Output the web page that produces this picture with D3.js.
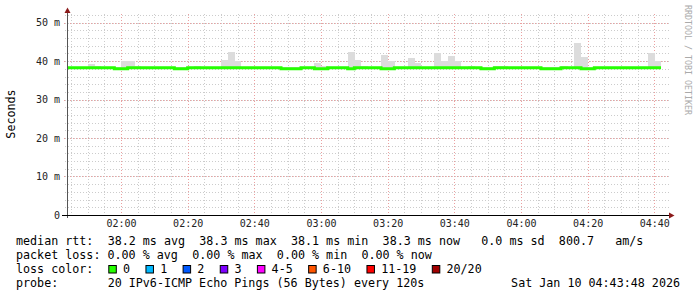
<!DOCTYPE html>
<html>
<head>
<meta charset="utf-8">
<script src="https://cdn.jsdelivr.net/npm/d3@7"></script>
<style>
body { margin: 0; background: #fff; }
svg text { font-family: "DejaVu Sans Mono", monospace; }
</style>
</head>
<body>
<script>
// time window of the graph and the 2 minute rrd steps
var startTime = Date.UTC(2026, 0, 10, 1, 43, 48)
var endTime = Date.UTC(2026, 0, 10, 4, 43, 48)
var firstBin = Date.UTC(2026, 0, 10, 1, 44, 0)
var stepMs = 120000

// median rtt per step (ms)
var medianMs = [
  38.3, 38.3, 38.3, 38.3, 38.3, 38.3, 38.3, 38.05, 38.05, 38.3,
  38.3, 38.3, 38.3, 38.3, 38.3, 38.3, 38.05, 38.05, 38.3, 38.3,
  38.3, 38.3, 38.3, 38.3, 38.3, 38.3, 38.3, 38.3, 38.3, 38.3,
  38.3, 38.3, 38.05, 38.05, 38.05, 38.3, 38.3, 38.05, 38.05, 38.3,
  38.3, 38.3, 38.05, 38.3, 38.3, 38.3, 38.3, 38.05, 38.05, 38.3,
  38.3, 38.3, 38.3, 38.3, 38.3, 38.3, 38.3, 38.3, 38.3, 38.3,
  38.3, 38.3, 38.05, 38.05, 38.3, 38.3, 38.3, 38.3, 38.3, 38.3,
  38.3, 38.05, 38.05, 38.05, 38.3, 38.3, 38.3, 38.05, 38.05, 38.3,
  38.3, 38.3, 38.3, 38.3, 38.3, 38.3, 38.3, 38.3, 38.3
]
// highest ping per step (top of the smoke)
var maxMs = [
  38.5, 38.5, 38.5, 39.3, 38.75, 38.5, 38.5, 38.5, 40.0, 40.0,
  38.75, 38.5, 38.5, 38.5, 38.5, 38.5, 38.5, 38.5, 38.5, 38.75,
  38.5, 38.5, 38.5, 40.3, 42.4, 40.0, 38.5, 38.5, 38.5, 38.5,
  38.5, 38.5, 38.5, 38.5, 38.5, 38.5, 38.5, 39.6, 38.75, 38.5,
  38.5, 38.5, 42.4, 40.3, 38.75, 38.5, 38.5, 41.6, 40.0, 38.5,
  38.5, 40.8, 39.5, 38.5, 38.5, 42.1, 40.0, 41.3, 40.0, 38.5,
  38.75, 38.5, 38.5, 38.5, 38.75, 38.75, 38.5, 38.5, 38.5, 38.5,
  38.5, 38.5, 38.5, 38.5, 38.75, 38.5, 44.7, 41.1, 38.5, 38.5,
  38.5, 38.5, 38.5, 38.5, 38.5, 38.5, 38.5, 42.1, 40.0
]
// lowest ping per step (bottom of the smoke)
var minMs = [
  37.95, 37.95, 37.95, 37.95, 37.95, 37.95, 37.95, 37.95, 37.95, 37.95,
  37.95, 37.95, 37.95, 37.95, 37.95, 37.95, 37.95, 37.95, 37.95, 37.95,
  37.95, 37.95, 37.95, 37.95, 37.95, 37.95, 37.95, 37.95, 37.95, 37.95,
  37.95, 37.95, 37.95, 37.95, 37.95, 37.95, 37.95, 37.95, 37.95, 37.95,
  37.95, 37.95, 37.95, 37.95, 37.95, 37.95, 37.95, 37.95, 37.95, 37.95,
  37.95, 37.95, 37.95, 37.95, 37.95, 37.95, 37.95, 37.95, 37.95, 37.95,
  37.95, 37.95, 37.95, 37.95, 37.95, 37.95, 37.95, 37.95, 37.95, 37.95,
  37.95, 37.95, 37.95, 37.95, 37.95, 37.95, 37.95, 37.95, 37.95, 37.95,
  37.95, 37.95, 37.95, 37.95, 37.95, 37.95, 37.95, 37.95, 37.95
]

var yTicks = [0, 10, 20, 30, 40, 50]
var lossLabels = ["0", "1", "2", "3", "4-5", "6-10", "11-19", "20/20"]
var lossColors = ["#26ff00", "#00b8ff", "#0059ff", "#7e00ff", "#ff00ff", "#ff5500", "#ff0000", "#a00000"]
var legendLines = [
  "median rtt:  38.2 ms avg  38.3 ms max  38.1 ms min  38.3 ms now   0.0 ms sd  800.7   am/s",
  "packet loss: 0.00 % avg  0.00 % max  0.00 % min  0.00 % now",
  "loss color:",
  "probe:       20 IPv6-ICMP Echo Pings (56 Bytes) every 120s"
]
var stampText = "Sat Jan 10 04:43:48 2026"
var creditText = "RRDTOOL / TOBI OETIKER"

var W = 697, H = 297
var plot = {left: 67, right: 667, top: 14, bottom: 214.9}
var charW = 7.05

var svg = d3.select("body").append("svg").attr("width", W).attr("height", H)

var x = d3.scaleUtc().domain([startTime, endTime]).range([plot.left, plot.right])
var y = d3.scaleLinear().domain([0, 52.26]).range([plot.bottom, plot.top])

// grid: minor then major
var grid = svg.append("g").attr("shape-rendering", "crispEdges")
var minorX = x.ticks(d3.utcMinute.every(5))
var majorX = x.ticks(d3.utcMinute.every(20))
var minorY = d3.range(2, 53, 2)

grid.selectAll(".vmin").data(minorX).enter().append("line")
    .attr("x1", function(d){ return Math.round(x(d)) + 0.5 })
    .attr("x2", function(d){ return Math.round(x(d)) + 0.5 })
    .attr("y1", plot.top).attr("y2", plot.bottom + 2)
    .attr("stroke", "#cccccc").attr("stroke-dasharray", "1,2")
grid.selectAll(".hmin").data(minorY).enter().append("line")
    .attr("x1", plot.left - 2).attr("x2", plot.right + 2)
    .attr("y1", function(d){ return Math.round(y(d)) + 0.5 })
    .attr("y2", function(d){ return Math.round(y(d)) + 0.5 })
    .attr("stroke", "#cccccc").attr("stroke-dasharray", "1,2")
grid.selectAll(".vmaj").data(majorX).enter().append("line")
    .attr("x1", function(d){ return Math.round(x(d)) + 0.5 })
    .attr("x2", function(d){ return Math.round(x(d)) + 0.5 })
    .attr("y1", plot.top).attr("y2", plot.bottom + 3)
    .attr("stroke", "#eba0a0").attr("stroke-dasharray", "1,2")
grid.selectAll(".hmaj").data(yTicks.slice(1)).enter().append("line")
    .attr("x1", plot.left - 3).attr("x2", plot.right + 2)
    .attr("y1", function(d){ return Math.round(y(d)) + 0.5 })
    .attr("y2", function(d){ return Math.round(y(d)) + 0.5 })
    .attr("stroke", "#eba0a0").attr("stroke-dasharray", "1,2")

// smoke
var bins = medianMs.map(function(m, i){
    return {t0: firstBin + i * stepMs, t1: firstBin + (i + 1) * stepMs, med: m, hi: maxMs[i], lo: minMs[i]}
})
var smoke = svg.append("g").attr("shape-rendering", "crispEdges")
smoke.selectAll(".up").data(bins).enter().append("rect")
    .attr("x", function(d){ return x(d.t0) })
    .attr("width", function(d){ return x(d.t1) - x(d.t0) + 0.3 })
    .attr("y", function(d){ return y(d.hi) })
    .attr("height", function(d){ return Math.max(0, y(d.med) - y(d.hi)) })
    .attr("fill", "#dcdcdc")
smoke.selectAll(".down").data(bins).enter().append("rect")
    .attr("x", function(d){ return x(d.t0) })
    .attr("width", function(d){ return x(d.t1) - x(d.t0) + 0.3 })
    .attr("y", function(d){ return y(d.med) })
    .attr("height", function(d){ return Math.max(0, y(d.lo) - y(d.med)) })
    .attr("fill", "#a8a8a8")

// median line
var pts = bins.map(function(d){ return [d.t0, d.med] })
pts.push([bins[bins.length - 1].t1, bins[bins.length - 1].med])
var medLine = d3.line()
    .x(function(d){ return x(d[0]) })
    .y(function(d){ return y(d[1]) })
    .curve(d3.curveStepAfter)
svg.append("path").attr("d", medLine(pts))
    .attr("fill", "none").attr("stroke", lossColors[0]).attr("stroke-width", 3)

// axes lines and arrows
svg.append("line").attr("x1", plot.left + 0.5).attr("x2", plot.left + 0.5)
    .attr("y1", 12).attr("y2", plot.bottom + 3).attr("stroke", "#555").attr("shape-rendering", "crispEdges")
svg.append("line").attr("x1", 62).attr("x2", 670).attr("y1", 215.5).attr("y2", 215.5)
    .attr("stroke", "#000").attr("shape-rendering", "crispEdges")
svg.append("path").attr("d", "M64.5,13L70.5,13L67.5,7.5Z").attr("fill", "#8b1a1a")
svg.append("path").attr("d", "M669,212.5L669,218.5L674.5,215.5Z").attr("fill", "#8b1a1a")

// tick labels
var yAxis = d3.axisLeft(y).tickValues(yTicks)
    .tickFormat(function(d){ return d === 0 ? "0" : d + " m" })
    .tickSize(0).tickPadding(7)
var gy = svg.append("g").attr("transform", "translate(" + plot.left + ",0)").call(yAxis)
gy.select(".domain").remove()
gy.selectAll("text").attr("font-family", "DejaVu Sans Mono").attr("font-size", 10).attr("fill", "#222")

var xAxis = d3.axisBottom(x).ticks(d3.utcMinute.every(20))
    .tickFormat(d3.utcFormat("%H:%M")).tickSize(0).tickPadding(5.5)
var gx = svg.append("g").attr("transform", "translate(0," + plot.bottom + ")").call(xAxis)
gx.select(".domain").remove()
gx.selectAll("text").attr("font-family", "DejaVu Sans Mono").attr("font-size", 10).attr("fill", "#222")

// axis title and credit
svg.append("text").attr("transform", "translate(15,114) rotate(-90)")
    .attr("text-anchor", "middle").attr("font-size", 11.7).attr("fill", "#000").text("Seconds")
svg.append("text").attr("transform", "translate(685,5) rotate(90)")
    .attr("font-size", 8.3).attr("fill", "#aaaaaa").text(creditText)

// legend: every word placed on its character column, like rrdtool does
var rowY = [245, 259, 272.8, 286.7]
legendLines.forEach(function(line, r){
    var re = /\S+(?: \S+)*/g, m
    while ((m = re.exec(line)) !== null) {
        svg.append("text").attr("x", 16 + m.index * charW).attr("y", rowY[r])
            .attr("font-size", 11.7).attr("fill", "#000").text(m[0])
    }
})
svg.append("text").attr("x", 680).attr("y", rowY[3]).attr("text-anchor", "end")
    .attr("font-size", 11.7).attr("fill", "#000").text(stampText)

var lx = 108.3
lossLabels.forEach(function(lab, i){
    svg.append("rect").attr("x", lx + 0.5).attr("y", 265.5).attr("width", 7.5).attr("height", 7.5)
        .attr("fill", lossColors[i]).attr("stroke", "#000").attr("stroke-width", 1)
    svg.append("text").attr("x", lx + 14.7).attr("y", rowY[2])
        .attr("font-size", 11.7).attr("fill", "#000").text(lab)
    lx += 14.7 + lab.length * charW + 15.4
})
</script>
</body>
</html>
